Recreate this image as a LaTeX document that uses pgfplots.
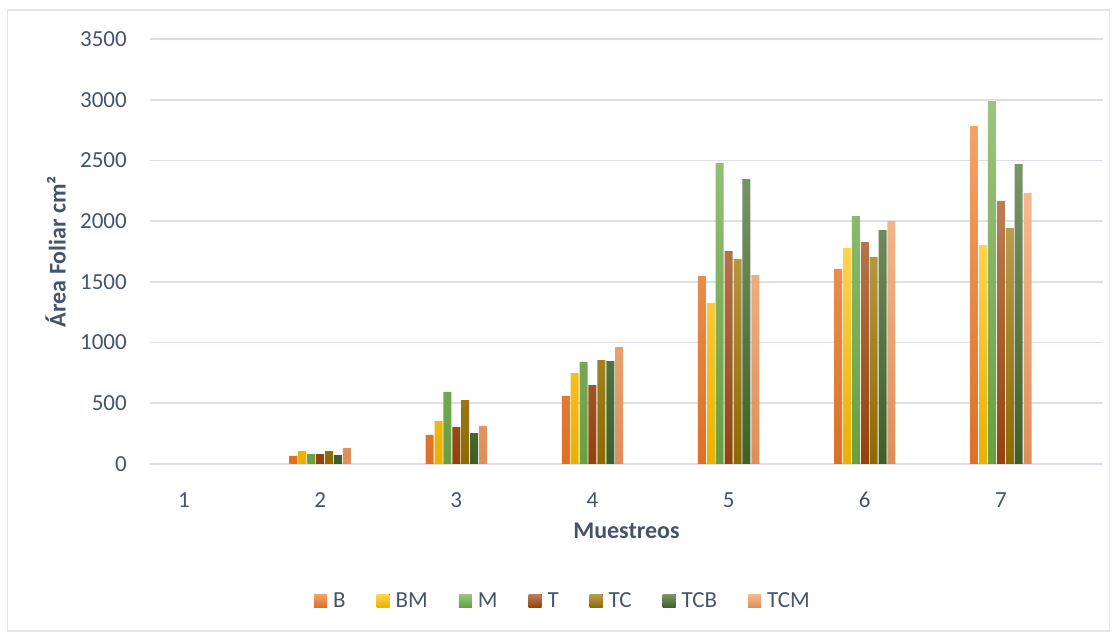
\documentclass[border=0pt]{standalone}
\usepackage{pgfplots}
\pgfplotsset{compat=1.18}
\usepackage{fontspec}
\setmainfont{Carlito}
\definecolor{cB}{HTML}{F07A28}
\definecolor{cBM}{HTML}{FFC000}
\definecolor{cM}{HTML}{70AD47}
\definecolor{cT}{HTML}{9E480E}
\definecolor{cTC}{HTML}{997300}
\definecolor{cTCB}{HTML}{43682B}
\definecolor{cTCM}{HTML}{F29B60}
\definecolor{gridc}{HTML}{DDE1E7}
\definecolor{txt}{HTML}{44546A}
\definecolor{frame}{HTML}{E3E5E8}
\pgfplotsset{
  barsty/.style={draw=none, shade, top color=#1!70!white, middle color=#1, bottom color=#1!92!black},
}
\begin{document}
\begin{tikzpicture}[x=1pt,y=1pt]
\useasboundingbox (0,0) rectangle (1117,634);
\draw[frame, line width=1.2pt] (7.5,3) rectangle (1109.5,624);
\begin{axis}[
  at={(150pt,170pt)}, anchor=south west,
  scale only axis, width=953pt, height=425pt,
  xmin=0.75, xmax=7.75, ymin=0, ymax=3500,
  ytick={0,500,...,3500},
  xtick={1,...,7},
  ymajorgrids, grid style={gridc, line width=1.6pt},
  axis line style={draw=none},
  tick style={draw=none},
  /pgf/number format/assume math mode=true,
  /pgf/number format/1000 sep={},
  ticklabel style={font=\fontsize{23}{27}\selectfont, text=txt, inner sep=0pt},
  yticklabel style={anchor=east, xshift=-23pt},
  xticklabel style={anchor=north, yshift=-24pt},
  ybar=0.9pt, bar width=8pt,
  xlabel={\textbf{Muestreos}},
  ylabel={\textbf{Área Foliar cm²}},
  label style={font=\fontsize{24}{28}\selectfont, text=txt},
  xlabel style={at={(axis description cs:0.5,0)}, anchor=center, yshift=-67pt},
  ylabel style={at={(axis description cs:-0.099,0.5)}, anchor=center},
  legend columns=7,
  legend style={at={(0.4334,-0.322)}, anchor=center, draw=none, fill=none,
    font=\fontsize{23}{27}\selectfont, text=txt,
    /tikz/every even column/.append style={column sep=29pt}},
  legend image code/.code={\fill[#1] (0pt,-6.5pt) rectangle (13pt,6.5pt); \path (17pt,0pt);},
]
\addplot[barsty=cB] coordinates {(2,66) (3,239) (4,560) (5,1548) (6,1606) (7,2783)};
\addplot[barsty=cBM] coordinates {(2,107) (3,354) (4,749) (5,1326) (6,1779) (7,1803)};
\addplot[barsty=cM] coordinates {(2,82) (3,593) (4,840) (5,2479) (6,2042) (7,2989)};
\addplot[barsty=cT] coordinates {(2,82) (3,305) (4,650) (5,1754) (6,1828) (7,2166)};
\addplot[barsty=cTC] coordinates {(2,107) (3,527) (4,856) (5,1688) (6,1705) (7,1943)};
\addplot[barsty=cTCB] coordinates {(2,74) (3,255) (4,848) (5,2347) (6,1927) (7,2470)};
\addplot[barsty=cTCM] coordinates {(2,132) (3,313) (4,963) (5,1556) (6,2001) (7,2232)};
\legend{B,BM,M,T,TC,TCB,TCM}
\end{axis}
\end{tikzpicture}
\end{document}
